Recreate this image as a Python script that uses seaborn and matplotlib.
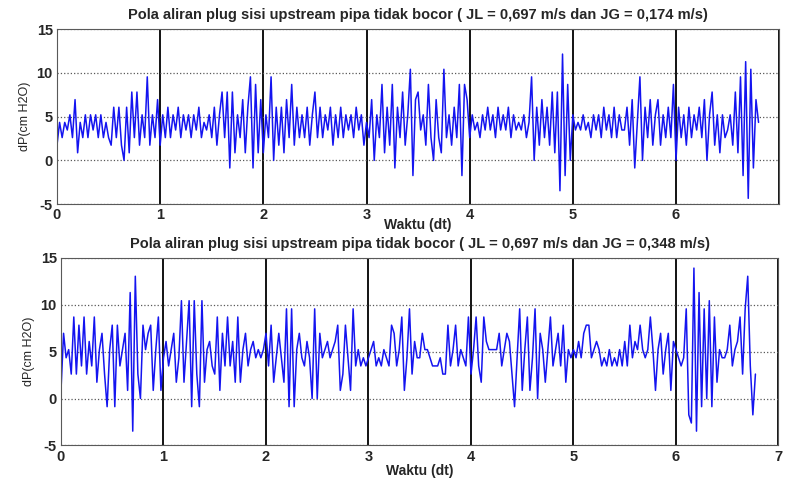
import numpy as np
import pandas as pd
import matplotlib
matplotlib.use("Agg")
import matplotlib.pyplot as plt
import seaborn as sns

# sampling interval (s) and pressure resolution (cm H2O per count)
DT = 0.025
STEP = 0.868

# readings in counts, JG = 0,174 m/s
top_levels = [
    2, 5, 3, 5, 4, 6, 3, 8, 1, 5,
    3, 6, 3, 6, 4, 6, 3, 6, 3, 5,
    3, 2, 7, 3, 7, 2, 0, 7, 1, 9,
    3, 9, 2, 6, 3, 11, 2, 6, 3, 8,
    2, 6, 3, 7, 3, 6, 4, 7, 3, 6,
    4, 6, 3, 6, 4, 7, 3, 5, 4, 6,
    3, 7, 2, 6, 9, 3, 9, -1, 9, 1,
    6, 3, 8, 1, 7, 11, -1, 10, 1, 8,
    1, 6, 3, 11, 0, 7, 2, 7, 1, 8,
    3, 10, 2, 7, 3, 6, 3, 7, 2, 6,
    9, 3, 7, 3, 6, 4, 7, 2, 6, 3,
    7, 3, 6, 4, 6, 3, 7, 4, 6, 2,
    5, 3, 8, 0, 6, 3, 10, 1, 7, 2,
    10, -1, 7, 3, 9, 2, 6, 12, -2, 8,
    9, 4, 6, 2, 10, 3, 0, 8, 3, 1,
    12, 3, 6, 2, 7, 3, 10, -2, 10, 8,
    3, 6, 4, 5, 3, 6, 4, 7, 4, 6,
    3, 7, 4, 6, 4, 7, 3, 6, 4, 5,
    4, 6, 3, 5, 11, 0, 7, 2, 8, 3,
    7, 2, 9, 1, 9, -4, 14, -2, 10, 0,
    6, 4, 5, 4, 6, 4, 5, 3, 6, 4,
    6, 3, 7, 4, 6, 3, 7, 3, 6, 4,
    4, 7, 2, 8, -1, 5, 11, 0, 7, 3,
    8, 2, 6, 8, 2, 6, 3, 7, 3, 10,
    0, 7, 3, 6, 2, 7, 3, 6, 4, 7,
    3, 8, 0, 6, 9, 2, 6, 1, 6, 3,
    4, 6, 2, 9, 1, 11, -2, 13, -5, 12,
    -1, 8, 5,
]

# readings in counts, JG = 0,348 m/s
bot_levels = [
    1, 8, 5, 6, 3, 10, 3, 9, 4, 10,
    3, 7, 4, 10, 2, 6, 8, 3, -1, 6,
    9, -1, 9, 4, 6, 8, 1, 13, -4, 15,
    3, 0, 9, 6, 8, 9, 1, 6, 10, 1,
    5, 7, 4, 6, 8, 2, 5, 12, 2, 7,
    12, -1, 12, 3, -1, 12, 2, 6, 7, 4,
    3, 10, 1, 8, 4, 10, 4, 7, 2, 10,
    2, 6, 8, 4, 6, 7, 5, 6, 5, 6,
    8, 4, 9, 2, 5, 8, 5, 2, 11, -1,
    11, -1, 6, 8, 5, 4, 7, 5, 0, 11,
    0, 8, 5, 6, 7, 5, 6, 7, 9, 1,
    3, 9, 5, 1, 11, 4, 6, 4, 5, 4,
    5, 6, 7, 4, 5, 4, 6, 5, 4, 9,
    8, 4, 6, 10, 1, 5, 11, 3, 7, 5,
    5, 8, 6, 6, 5, 4, 4, 4, 5, 3,
    3, 9, 4, 6, 9, 4, 6, 5, 4, 10,
    3, 6, 10, 4, 2, 10, 7, 6, 6, 6,
    6, 8, 4, 6, 8, 7, 3, -1, 5, 11,
    1, 6, 10, 1, 5, 11, 0, 8, 6, 2,
    6, 10, 4, 6, 8, 4, 9, 2, 6, 5,
    6, 5, 7, 5, 8, 9, 9, 5, 6, 7,
    6, 4, 5, 4, 6, 4, 5, 4, 6, 4,
    7, 4, 9, 5, 7, 6, 9, 6, 5, 6,
    10, 6, 1, 6, 8, 3, 6, 8, 1, 7,
    6, 5, 4, 5, 11, -2, -3, 16, -4, 13,
    -1, 11, 0, 12, -1, 10, 2, 6, 5, 5,
    6, 9, 4, 6, 7, 10, 3, 11, 15, 4,
    -2, 3,
]

titles = [
    "Pola aliran plug sisi upstream pipa tidak bocor ( JL = 0,697 m/s dan JG = 0,174 m/s)",
    "Pola aliran plug sisi upstream pipa tidak bocor ( JL = 0,697 m/s dan JG = 0,348 m/s)",
]
x_ticks = [0, 1, 2, 3, 4, 5, 6, 7]
y_ticks = [-5, 0, 5, 10, 15]

sns.set_style("white")
plt.rcParams['font.family'] = ['Liberation Sans', 'DejaVu Sans']
plt.rcParams['axes.unicode_minus'] = False

fig = plt.figure(figsize=(7.85, 4.78), dpi=100)
ax1 = fig.add_axes([0.0726, 0.573, 0.920, 0.366])
ax2 = fig.add_axes([0.0777, 0.068, 0.914, 0.393])


def draw(ax, levels, title, show_last=True):
    df = pd.DataFrame({
        't': np.arange(len(levels)) * DT,
        'dp': np.array(levels) * STEP,
    })
    sns.lineplot(data=df, x='t', y='dp', ax=ax, color='#1414f0', linewidth=1.1)
    ax.set_xlim(0, 7)
    ax.set_ylim(-5, 15)
    ax.set_xticks(x_ticks)
    labels = [str(v) for v in x_ticks]
    if not show_last:
        labels[-1] = ''
    ax.set_xticklabels(labels)
    ax.set_yticks(y_ticks)
    ax.set_axisbelow(True)
    ax.grid(axis='x', color='black', linewidth=1.3, linestyle='-')
    ax.grid(axis='y', color='0.35', linewidth=0.9, linestyle=':')
    for s in ax.spines.values():
        s.set_color('0.35')
        s.set_linewidth(0.8)
    ax.tick_params(direction='in', length=3, labelsize=10.5, pad=3)
    for lab in ax.get_xticklabels() + ax.get_yticklabels():
        lab.set_fontweight('bold')
    ax.set_title(title, fontsize=10.5, fontweight='bold', pad=7)
    ax.set_ylabel('dP(cm H2O)', fontsize=9, labelpad=4)


draw(ax1, top_levels, titles[0], show_last=False)
draw(ax2, bot_levels, titles[1])
ax1.set_xlabel('Waktu (dt)', fontsize=10, fontweight='bold', labelpad=-3)
ax2.set_xlabel('Waktu (dt)', fontsize=10, fontweight='bold', labelpad=0)

plt.savefig('out.png', dpi=100)
plt.close()
